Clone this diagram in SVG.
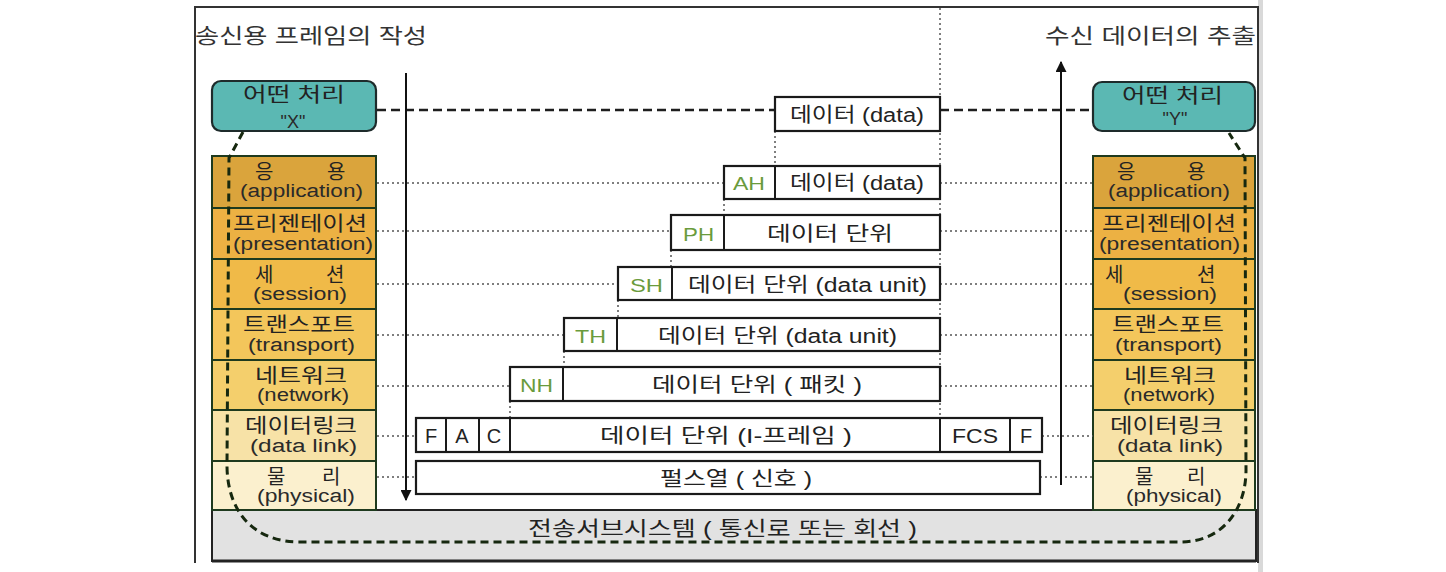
<svg xmlns="http://www.w3.org/2000/svg" width="1446" height="572" viewBox="0 0 1446 572">
<style>
  text { font-family: "Liberation Sans", "Noto Sans CJK KR", sans-serif; }
  .t { fill: #222; font-size: 20px; }
  .en { fill: #2a2a2a; font-size: 18px; }
  .ttl { fill: #333; font-size: 21px; }
  .hd { fill: #6a9b3c; font-size: 19px; }
  .lay { stroke: #1e3a1e; stroke-width: 2; }
  .box { fill: #fff; stroke: #1a1a1a; stroke-width: 2.2; }
  .teal { fill: #5bb8b3; stroke: #1e2b2b; stroke-width: 2.2; }
  .dot { stroke: #555; stroke-width: 1.5; stroke-dasharray: 2 3; fill: none; }
  .dash { stroke: #1e1e1e; stroke-width: 2.5; stroke-dasharray: 9 5; fill: none; }
  .curve { stroke: #16280f; stroke-width: 3; stroke-dasharray: 8 5; fill: none; }
  .arr { stroke: #111; stroke-width: 2; fill: none; }
</style>
<defs>
  <marker id="ah" viewBox="0 0 10 10" refX="9" refY="5" markerWidth="5.5" markerHeight="5.5" orient="auto">
    <path d="M0,0 L10,5 L0,10 z" fill="#111"/>
  </marker>
</defs>
<rect width="1446" height="572" fill="#fff"/>
<g id="frame">
  <rect x="1258" y="0" width="5" height="572" fill="#d9d9d9"/>
  <path d="M195 563 L195 7 L1258 7 L1258 563" fill="none" stroke="#333" stroke-width="2"/>
</g>
<g id="subsystem">
  <rect x="212" y="510" width="1044" height="51" fill="#e2e2e2" stroke="#222" stroke-width="2"/>
  <line x1="212" y1="561" x2="1256" y2="561" stroke="#222" stroke-width="3"/>
  <text class="t" x="528" y="536" textLength="389" lengthAdjust="spacingAndGlyphs">전송서브시스템 ( 통신로 또는 회선 )</text>
</g>
<text class="ttl" x="195" y="43" textLength="232" lengthAdjust="spacingAndGlyphs">송신용 프레임의 작성</text>
<text class="ttl" x="1045" y="43" textLength="211" lengthAdjust="spacingAndGlyphs">수신 데이터의 추출</text>
<g id="left-x">
  <rect class="teal" x="212" y="81" width="164" height="50" rx="9"/>
  <text class="t" x="243" y="102" textLength="102" lengthAdjust="spacingAndGlyphs">어떤 처리</text>
  <text class="en" x="293" y="128" text-anchor="middle" font-size="17">"X"</text>
</g>
<g id="left-application">
  <rect class="lay" x="212" y="156" width="164" height="52" fill="#daa43c"/>
  <text class="t" x="255" y="179">응</text><text class="t" x="327" y="179">용</text>
  <text class="en" x="240" y="197" textLength="123" lengthAdjust="spacingAndGlyphs">(application)</text>
</g>
<g id="left-presentation">
  <rect class="lay" x="212" y="208" width="164" height="51" fill="#ecb143"/>
  <text class="t" x="233" y="231" textLength="134" lengthAdjust="spacingAndGlyphs">프리젠테이션</text>
  <text class="en" x="233" y="250" textLength="140" lengthAdjust="spacingAndGlyphs">(presentation)</text>
</g>
<g id="left-session">
  <rect class="lay" x="212" y="259" width="164" height="50" fill="#f0ba48"/>
  <text class="t" x="255" y="282">세</text><text class="t" x="326" y="282">션</text>
  <text class="en" x="253" y="300" textLength="94" lengthAdjust="spacingAndGlyphs">(session)</text>
</g>
<g id="left-transport">
  <rect class="lay" x="212" y="309" width="164" height="51" fill="#f3c65b"/>
  <text class="t" x="243" y="332" textLength="112" lengthAdjust="spacingAndGlyphs">트랜스포트</text>
  <text class="en" x="248" y="351" textLength="107" lengthAdjust="spacingAndGlyphs">(transport)</text>
</g>
<g id="left-network">
  <rect class="lay" x="212" y="360" width="164" height="50" fill="#f4cf6c"/>
  <text class="t" x="255" y="383" textLength="92" lengthAdjust="spacingAndGlyphs">네트워크</text>
  <text class="en" x="257" y="401" textLength="92" lengthAdjust="spacingAndGlyphs">(network)</text>
</g>
<g id="left-datalink">
  <rect class="lay" x="212" y="410" width="164" height="51" fill="#f7e2a7"/>
  <text class="t" x="245" y="433" textLength="112" lengthAdjust="spacingAndGlyphs">데이터링크</text>
  <text class="en" x="250" y="452" textLength="107" lengthAdjust="spacingAndGlyphs">(data link)</text>
</g>
<g id="left-physical">
  <rect class="lay" x="212" y="461" width="164" height="49" fill="#fbf0ce"/>
  <text class="t" x="267" y="484">물</text><text class="t" x="322" y="484">리</text>
  <text class="en" x="257" y="502" textLength="98" lengthAdjust="spacingAndGlyphs">(physical)</text>
</g>
<g id="right-y">
  <rect class="teal" x="1093" y="82" width="162" height="49" rx="9"/>
  <text class="t" x="1122" y="103" textLength="101" lengthAdjust="spacingAndGlyphs">어떤 처리</text>
  <text class="en" x="1175" y="125" text-anchor="middle" font-size="15">"Y"</text>
</g>
<g id="right-application">
  <rect class="lay" x="1093" y="156" width="162" height="52" fill="#daa43c"/>
  <text class="t" x="1117" y="179">응</text><text class="t" x="1187" y="179">용</text>
  <text class="en" x="1108" y="197" textLength="122" lengthAdjust="spacingAndGlyphs">(application)</text>
</g>
<g id="right-presentation">
  <rect class="lay" x="1093" y="208" width="162" height="51" fill="#ecb143"/>
  <text class="t" x="1102" y="231" textLength="134" lengthAdjust="spacingAndGlyphs">프리젠테이션</text>
  <text class="en" x="1099" y="250" textLength="141" lengthAdjust="spacingAndGlyphs">(presentation)</text>
</g>
<g id="right-session">
  <rect class="lay" x="1093" y="259" width="162" height="50" fill="#f0ba48"/>
  <text class="t" x="1105" y="282">세</text><text class="t" x="1197" y="282">션</text>
  <text class="en" x="1123" y="300" textLength="94" lengthAdjust="spacingAndGlyphs">(session)</text>
</g>
<g id="right-transport">
  <rect class="lay" x="1093" y="309" width="162" height="51" fill="#f3c65b"/>
  <text class="t" x="1112" y="332" textLength="112" lengthAdjust="spacingAndGlyphs">트랜스포트</text>
  <text class="en" x="1115" y="351" textLength="107" lengthAdjust="spacingAndGlyphs">(transport)</text>
</g>
<g id="right-network">
  <rect class="lay" x="1093" y="360" width="162" height="50" fill="#f4cf6c"/>
  <text class="t" x="1124" y="383" textLength="92" lengthAdjust="spacingAndGlyphs">네트워크</text>
  <text class="en" x="1123" y="401" textLength="92" lengthAdjust="spacingAndGlyphs">(network)</text>
</g>
<g id="right-datalink">
  <rect class="lay" x="1093" y="410" width="162" height="51" fill="#f7e2a7"/>
  <text class="t" x="1110" y="433" textLength="113" lengthAdjust="spacingAndGlyphs">데이터링크</text>
  <text class="en" x="1117" y="452" textLength="106" lengthAdjust="spacingAndGlyphs">(data link)</text>
</g>
<g id="right-physical">
  <rect class="lay" x="1093" y="461" width="162" height="49" fill="#fbf0ce"/>
  <text class="t" x="1135" y="484">물</text><text class="t" x="1187" y="484">리</text>
  <text class="en" x="1126" y="502" textLength="96" lengthAdjust="spacingAndGlyphs">(physical)</text>
</g>
<g id="connectors">
  <path class="curve" d="M243 132 L229 158 L227 465 C227 510 252 542 300 542 L1180 542 C1224 542 1246 508 1246 470 L1245 158 L1229 133"/>
  <line class="dash" x1="377" y1="110" x2="775" y2="110"/>
  <line class="dash" x1="940" y1="110" x2="1093" y2="110"/>
  <line class="dot" x1="940" y1="8" x2="940" y2="418"/>
  <line class="dot" x1="775" y1="131" x2="775" y2="166"/>
  <line class="dot" x1="724" y1="199" x2="724" y2="215"/>
  <line class="dot" x1="671" y1="250" x2="671" y2="267"/>
  <line class="dot" x1="618" y1="300" x2="618" y2="318"/>
  <line class="dot" x1="564" y1="351" x2="564" y2="367"/>
  <line class="dot" x1="510" y1="401" x2="510" y2="418"/>
  <line class="dot" x1="377" y1="183" x2="724" y2="183"/>
  <line class="dot" x1="940" y1="183" x2="1093" y2="183"/>
  <line class="dot" x1="377" y1="231" x2="671" y2="231"/>
  <line class="dot" x1="940" y1="231" x2="1093" y2="231"/>
  <line class="dot" x1="377" y1="284" x2="618" y2="284"/>
  <line class="dot" x1="940" y1="284" x2="1093" y2="284"/>
  <line class="dot" x1="377" y1="335" x2="564" y2="335"/>
  <line class="dot" x1="940" y1="335" x2="1093" y2="335"/>
  <line class="dot" x1="377" y1="386" x2="510" y2="386"/>
  <line class="dot" x1="940" y1="386" x2="1093" y2="386"/>
  <line class="dot" x1="377" y1="436" x2="416" y2="436"/>
  <line class="dot" x1="1042" y1="436" x2="1093" y2="436"/>
  <line class="dot" x1="377" y1="477" x2="416" y2="477"/>
  <line class="dot" x1="1040" y1="477" x2="1093" y2="477"/>
  <line class="arr" x1="406" y1="73" x2="406" y2="500" marker-end="url(#ah)"/>
  <line class="arr" x1="1061" y1="485" x2="1061" y2="62" marker-end="url(#ah)"/>
</g>
<g id="data">
  <rect class="box" x="775" y="97" width="165" height="34"/>
  <text class="t" x="790" y="122" textLength="134" lengthAdjust="spacingAndGlyphs">데이터 (data)</text>
</g>
<g id="ah-unit">
  <rect class="box" x="724" y="166" width="216" height="33"/>
  <line x1="775" y1="166" x2="775" y2="199" stroke="#1a1a1a" stroke-width="2"/>
  <text class="hd" x="733" y="190" textLength="32" lengthAdjust="spacingAndGlyphs">AH</text>
  <text class="t" x="790" y="190" textLength="134" lengthAdjust="spacingAndGlyphs">데이터 (data)</text>
</g>
<g id="ph-unit">
  <rect class="box" x="671" y="215" width="269" height="35"/>
  <line x1="724" y1="215" x2="724" y2="250" stroke="#1a1a1a" stroke-width="2"/>
  <text class="hd" x="683" y="241" textLength="31" lengthAdjust="spacingAndGlyphs">PH</text>
  <text class="t" x="767" y="241" textLength="126" lengthAdjust="spacingAndGlyphs">데이터 단위</text>
</g>
<g id="sh-unit">
  <rect class="box" x="618" y="267" width="322" height="33"/>
  <line x1="672" y1="267" x2="672" y2="300" stroke="#1a1a1a" stroke-width="2"/>
  <text class="hd" x="630" y="292" textLength="33" lengthAdjust="spacingAndGlyphs">SH</text>
  <text class="t" x="688" y="292" textLength="239" lengthAdjust="spacingAndGlyphs">데이터 단위 (data unit)</text>
</g>
<g id="th-unit">
  <rect class="box" x="564" y="318" width="376" height="33"/>
  <line x1="617" y1="318" x2="617" y2="351" stroke="#1a1a1a" stroke-width="2"/>
  <text class="hd" x="575" y="343" textLength="31" lengthAdjust="spacingAndGlyphs">TH</text>
  <text class="t" x="658" y="343" textLength="239" lengthAdjust="spacingAndGlyphs">데이터 단위 (data unit)</text>
</g>
<g id="nh-unit">
  <rect class="box" x="510" y="367" width="430" height="34"/>
  <line x1="563" y1="367" x2="563" y2="401" stroke="#1a1a1a" stroke-width="2"/>
  <text class="hd" x="520" y="392" textLength="33" lengthAdjust="spacingAndGlyphs">NH</text>
  <text class="t" x="652" y="392" textLength="210" lengthAdjust="spacingAndGlyphs">데이터 단위 ( 패킷 )</text>
</g>
<g id="frame-unit">
  <rect class="box" x="416" y="418" width="626" height="34"/>
  <line x1="446" y1="418" x2="446" y2="452" stroke="#1a1a1a" stroke-width="2"/>
  <line x1="479" y1="418" x2="479" y2="452" stroke="#1a1a1a" stroke-width="2"/>
  <line x1="510" y1="418" x2="510" y2="452" stroke="#1a1a1a" stroke-width="2"/>
  <line x1="940" y1="418" x2="940" y2="452" stroke="#1a1a1a" stroke-width="2"/>
  <line x1="1010" y1="418" x2="1010" y2="452" stroke="#1a1a1a" stroke-width="2"/>
  <text class="t" x="431" y="443" text-anchor="middle">F</text>
  <text class="t" x="462" y="443" text-anchor="middle">A</text>
  <text class="t" x="494" y="443" text-anchor="middle">C</text>
  <text class="t" x="600" y="443" textLength="252" lengthAdjust="spacingAndGlyphs">데이터 단위 (I-프레임 )</text>
  <text class="t" x="952" y="443" textLength="46" lengthAdjust="spacingAndGlyphs">FCS</text>
  <text class="t" x="1026" y="443" text-anchor="middle">F</text>
</g>
<g id="pulse-unit">
  <rect class="box" x="416" y="461" width="624" height="33"/>
  <text class="t" x="660" y="486" textLength="152" lengthAdjust="spacingAndGlyphs">펄스열 ( 신호 )</text>
</g>
</svg>
